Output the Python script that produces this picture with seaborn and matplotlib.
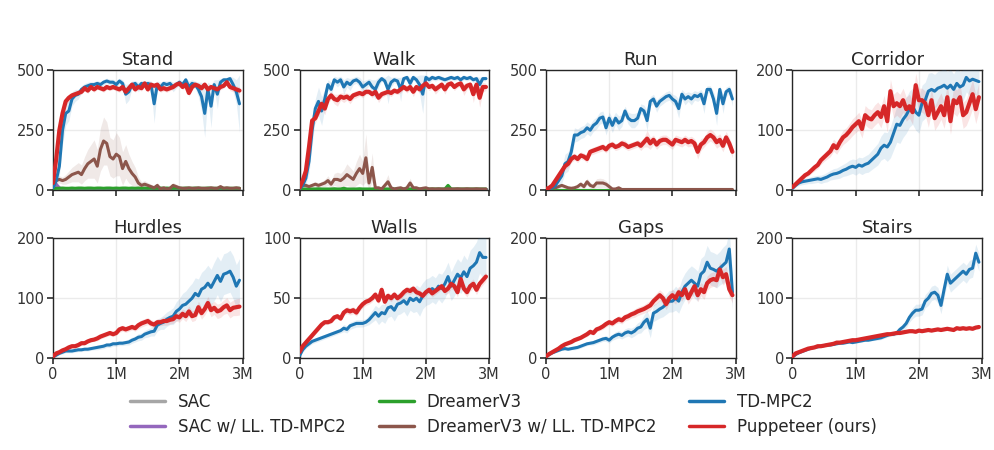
import numpy as np
import matplotlib
matplotlib.use("Agg")
import matplotlib.pyplot as plt
import seaborn as sns
from matplotlib.lines import Line2D

# ---------------- data (environment steps every 50k, 0 .. 2.95M) ----------------
steps = np.arange(60) * 50_000

titles = ["Stand", "Walk", "Run", "Corridor", "Hurdles", "Walls", "Gaps", "Stairs"]
ymax = [500, 500, 500, 200, 200, 100, 200, 200]
yticks = [[0, 250, 500], [0, 250, 500], [0, 250, 500], [0, 100, 200],
          [0, 100, 200], [0, 50, 100], [0, 100, 200], [0, 100, 200]]
xtick_vals = [0, 1_000_000, 2_000_000, 3_000_000]
xtick_labels = ["0", "1M", "2M", "3M"]

legend_labels = ["SAC", "SAC w/ LL. TD-MPC2", "DreamerV3",
                 "DreamerV3 w/ LL. TD-MPC2", "TD-MPC2", "Puppeteer (ours)"]

# ---- Stand ----
stand_tdmpc2 = [10, 40, 100, 250, 320, 330, 380, 395, 400, 420,
                430, 435, 440, 440, 445, 440, 450, 455, 450, 450,
                440, 455, 445, 400, 410, 440, 445, 430, 445, 440,
                445, 440, 360, 440, 430, 445, 440, 445, 430, 440,
                450, 440, 460, 430, 445, 440, 420, 390, 320, 420,
                350, 440, 400, 450, 460, 460, 465, 440, 410, 360]
stand_tdmpc2_sd = [5, 20, 40, 60, 50, 40, 30, 25, 20, 15,
                   15, 15, 12, 12, 12, 12, 12, 12, 12, 12,
                   15, 12, 15, 40, 35, 15, 12, 20, 12, 15,
                   12, 15, 80, 15, 20, 12, 15, 12, 20, 15,
                   12, 15, 10, 25, 15, 15, 30, 60, 100, 30,
                   90, 20, 60, 15, 10, 10, 10, 30, 50, 120]
stand_pup = [30, 130, 250, 320, 370, 385, 395, 400, 405, 410,
             425, 415, 430, 420, 430, 425, 420, 430, 425, 430,
             425, 420, 430, 410, 425, 440, 420, 430, 425, 445,
             420, 440, 435, 440, 420, 425, 420, 425, 430, 440,
             445, 430, 440, 405, 430, 440, 435, 425, 440, 420,
             430, 425, 420, 430, 435, 450, 430, 425, 420, 415]
stand_pup_sd = [10, 30, 40, 30, 20, 15, 12, 10, 10, 10,
                10, 12, 10, 12, 10, 10, 12, 10, 10, 10,
                12, 12, 10, 15, 12, 10, 12, 10, 12, 10,
                12, 10, 10, 10, 12, 12, 12, 10, 10, 10,
                10, 12, 10, 15, 12, 10, 10, 12, 10, 12,
                10, 12, 12, 12, 10, 10, 15, 15, 15, 15]
stand_dreamer_ll = [20, 40, 45, 40, 45, 55, 65, 70, 75, 65,
                    90, 110, 120, 130, 100, 170, 205, 195, 140, 130,
                    150, 140, 90, 120, 90, 70, 55, 30, 20, 25,
                    20, 15, 10, 20, 5, 10, 5, 8, 20, 15,
                    10, 8, 8, 10, 8, 8, 10, 8, 8, 8,
                    10, 8, 8, 15, 8, 10, 8, 8, 10, 8]
stand_dreamer_ll_sd = [5, 10, 15, 15, 20, 25, 30, 35, 40, 40,
                       50, 60, 70, 80, 70, 90, 100, 90, 80, 80,
                       90, 80, 70, 70, 60, 50, 40, 25, 15, 15,
                       12, 10, 8, 12, 4, 6, 4, 5, 12, 10,
                       6, 5, 5, 6, 5, 5, 6, 5, 5, 5,
                       6, 5, 5, 8, 5, 6, 5, 5, 6, 5]
stand_dreamer = [5, 8, 8, 9, 8, 8, 9, 8, 9, 9,
                 8, 9, 9, 8, 9, 9, 8, 9, 9, 8,
                 9, 8, 9, 9, 8, 9, 8, 9, 8, 9,
                 8, 9, 8, 8, 9, 8, 9, 8, 8, 9,
                 8, 8, 9, 8, 8, 9, 8, 8, 8, 9,
                 8, 8, 8, 9, 8, 8, 8, 8, 8, 8]
stand_sac = [3, 4, 4, 4, 4, 4, 4, 4, 4, 4,
             4, 4, 4, 4, 4, 4, 4, 4, 4, 4,
             4, 4, 4, 4, 4, 4, 4, 4, 4, 4,
             4, 4, 4, 4, 4, 4, 4, 4, 4, 4,
             4, 4, 4, 4, 4, 4, 4, 4, 4, 4,
             4, 4, 4, 4, 4, 4, 4, 4, 4, 4]
stand_sac_ll = [5, 25, 10, 5, 5, 5, 5, 5, 5, 5,
                5, 5, 5, 5, 5, 5, 5, 5, 5, 5,
                5, 5, 5, 5, 5, 5, 5, 5, 5, 5,
                5, 5, 5, 5, 5, 5, 5, 5, 5, 5,
                5, 5, 5, 5, 5, 5, 5, 5, 5, 5,
                5, 5, 5, 5, 5, 5, 5, 5, 5, 5]

# ---- Walk ----
walk_tdmpc2 = [5, 20, 50, 120, 250, 340, 370, 330, 380, 440,
               420, 460, 450, 460, 430, 450, 440, 455, 460, 450,
               430, 440, 450, 430, 420, 450, 465, 455, 420, 450,
               460, 455, 420, 465, 470, 445, 470, 460, 440, 400,
               470, 460, 470, 465, 470, 465, 460, 465, 470, 465,
               470, 460, 470, 465, 470, 460, 465, 440, 465, 465]
walk_tdmpc2_sd = [3, 10, 25, 50, 60, 40, 60, 60, 40, 20,
                  30, 15, 20, 15, 30, 20, 25, 15, 15, 20,
                  25, 20, 15, 30, 40, 20, 10, 15, 60, 20,
                  12, 15, 50, 10, 10, 25, 10, 15, 40, 80,
                  10, 15, 10, 10, 10, 10, 12, 10, 10, 10,
                  10, 12, 10, 10, 10, 12, 10, 30, 10, 10]
walk_pup = [10, 40, 80, 180, 290, 300, 330, 360, 340, 380,
            395, 380, 375, 390, 385, 390, 380, 395, 400, 405,
            400, 410, 410, 400, 410, 385, 400, 405, 410, 405,
            415, 410, 420, 430, 420, 430, 410, 430, 420, 435,
            445, 430, 435, 420, 430, 440, 420, 440, 445, 430,
            440, 445, 420, 435, 440, 400, 440, 385, 430, 430]
walk_pup_sd = [5, 15, 25, 30, 25, 20, 20, 20, 25, 20,
               15, 20, 25, 15, 20, 15, 20, 15, 15, 12,
               15, 12, 12, 15, 12, 20, 15, 12, 12, 15,
               12, 12, 15, 12, 15, 12, 20, 12, 15, 12,
               12, 15, 12, 20, 15, 12, 20, 12, 12, 15,
               12, 12, 25, 15, 12, 35, 15, 40, 20, 15]
walk_dreamer_ll = [10, 20, 20, 15, 20, 25, 20, 25, 30, 40,
                   25, 45, 45, 40, 50, 65, 55, 45, 70, 90,
                   70, 135, 30, 95, 10, 10, 5, 20, 35, 10,
                   5, 8, 10, 5, 10, 30, 10, 10, 5, 8,
                   10, 5, 6, 5, 6, 5, 5, 6, 5, 5,
                   6, 5, 5, 6, 5, 5, 6, 5, 5, 5]
walk_dreamer_ll_sd = [5, 10, 10, 8, 10, 12, 10, 12, 15, 20,
                      15, 25, 30, 30, 35, 45, 40, 35, 50, 60,
                      50, 100, 25, 60, 8, 8, 4, 15, 30, 8,
                      4, 5, 8, 4, 8, 20, 8, 6, 4, 5,
                      6, 4, 4, 4, 4, 4, 4, 4, 4, 4,
                      4, 4, 4, 4, 4, 4, 4, 4, 4, 4]
walk_dreamer = [4, 5, 5, 5, 5, 5, 6, 5, 5, 5,
                5, 6, 5, 5, 8, 5, 5, 5, 5, 6,
                5, 5, 5, 5, 6, 5, 5, 5, 5, 5,
                5, 5, 5, 5, 5, 5, 5, 5, 5, 5,
                5, 5, 5, 5, 5, 5, 5, 20, 5, 5,
                5, 5, 5, 5, 5, 5, 5, 5, 5, 5]
walk_sac = [3] * 60
walk_sac_ll = [4] * 60

# ---- Run ----
run_tdmpc2 = [5, 5, 10, 20, 40, 60, 110, 120, 160, 230,
              230, 240, 245, 260, 250, 270, 280, 300, 305, 260,
              300, 270, 300, 280, 290, 330, 300, 290, 290, 300,
              340, 330, 290, 370, 380, 350, 370, 380, 390, 395,
              380, 370, 340, 400, 380, 390, 380, 395, 390, 400,
              360, 420, 420, 380, 320, 420, 360, 410, 420, 380]
run_tdmpc2_sd = [3, 3, 5, 10, 20, 30, 40, 40, 40, 30,
                 25, 25, 25, 25, 25, 25, 25, 25, 25, 30,
                 25, 30, 25, 30, 25, 20, 25, 30, 30, 25,
                 20, 25, 40, 20, 20, 25, 20, 20, 20, 20,
                 20, 25, 40, 20, 25, 20, 25, 20, 20, 20,
                 40, 15, 15, 30, 50, 15, 40, 20, 15, 30]
run_pup = [5, 10, 20, 40, 60, 80, 100, 110, 130, 140,
           130, 145, 140, 130, 160, 165, 170, 175, 180, 170,
           185, 190, 180, 185, 195, 190, 180, 185, 190, 195,
           185, 200, 215, 195, 210, 190, 205, 210, 210, 200,
           190, 210, 205, 200, 210, 200, 205, 195, 160, 190,
           200, 220, 230, 220, 200, 210, 185, 220, 195, 160]
run_pup_sd = [3, 5, 8, 10, 12, 12, 15, 15, 15, 15,
              15, 15, 15, 15, 15, 15, 15, 15, 15, 15,
              15, 15, 15, 15, 15, 18, 15, 15, 15, 15,
              20, 20, 35, 25, 20, 20, 20, 20, 20, 20,
              20, 20, 20, 20, 20, 20, 20, 20, 30, 25,
              20, 25, 25, 25, 25, 25, 25, 25, 25, 25]
run_dreamer_ll = [5, 8, 10, 10, 15, 20, 15, 10, 8, 10,
                  15, 25, 15, 35, 20, 15, 30, 30, 30, 25,
                  15, 5, 5, 10, 3, 3, 3, 3, 3, 3,
                  3, 3, 3, 3, 3, 3, 3, 3, 3, 3,
                  3, 3, 3, 3, 3, 3, 3, 3, 3, 3,
                  3, 3, 3, 3, 3, 3, 3, 3, 3, 3]
run_dreamer_ll_sd = [3, 4, 5, 5, 8, 10, 8, 6, 5, 6,
                     8, 12, 10, 15, 12, 10, 18, 20, 18, 15,
                     10, 4, 4, 6, 2, 2, 2, 2, 2, 2,
                     2, 2, 2, 2, 2, 2, 2, 2, 2, 2,
                     2, 2, 2, 2, 2, 2, 2, 2, 2, 2,
                     2, 2, 2, 2, 2, 2, 2, 2, 2, 2]
run_dreamer = [2] * 60
run_sac = [1] * 60
run_sac_ll = [2] * 60

# ---- Corridor ----
corridor_tdmpc2 = [3, 8, 12, 14, 15, 16, 17, 18, 19, 18,
                   20, 22, 25, 27, 28, 30, 33, 35, 38, 40,
                   38, 42, 40, 43, 45, 50, 55, 60, 70, 75,
                   72, 80, 95, 110, 108, 118, 125, 135, 140, 130,
                   125, 145, 150, 165, 168, 165, 170, 172, 175, 170,
                   175, 168, 178, 172, 175, 188, 182, 185, 183, 181]
corridor_tdmpc2_sd = [2, 3, 4, 5, 5, 5, 6, 6, 6, 7,
                      7, 8, 8, 9, 9, 10, 10, 11, 12, 12,
                      13, 13, 14, 14, 15, 16, 17, 18, 20, 22,
                      24, 26, 28, 30, 30, 30, 30, 30, 30, 30,
                      30, 30, 30, 30, 28, 28, 28, 28, 28, 28,
                      26, 26, 26, 26, 26, 24, 24, 24, 24, 24]
corridor_pup = [5, 10, 15, 20, 25, 28, 33, 38, 42, 50,
                55, 60, 65, 75, 70, 80, 88, 92, 98, 105,
                110, 115, 102, 125, 120, 118, 125, 130, 122, 140,
                115, 165, 140, 145, 140, 150, 135, 140, 130, 175,
                150, 150, 145, 125, 150, 120, 130, 140, 125, 155,
                115, 150, 145, 155, 125, 130, 145, 160, 135, 155]
corridor_pup_sd = [2, 3, 3, 4, 4, 5, 5, 6, 6, 7,
                   7, 8, 9, 10, 10, 11, 12, 12, 13, 14,
                   14, 15, 15, 16, 16, 16, 17, 17, 18, 18,
                   18, 20, 20, 20, 20, 20, 20, 20, 20, 20,
                   20, 20, 20, 20, 20, 20, 22, 22, 22, 22,
                   22, 22, 22, 22, 22, 22, 24, 24, 24, 24]

# ---- Hurdles ----
hurdles_tdmpc2 = [2, 5, 8, 10, 12, 12, 12, 13, 14, 14,
                  15, 15, 16, 17, 18, 19, 20, 22, 22, 24,
                  24, 25, 25, 26, 27, 30, 32, 35, 36, 40,
                  42, 44, 45, 55, 58, 60, 65, 68, 70, 78,
                  82, 88, 90, 95, 100, 108, 104, 115, 118, 125,
                  118, 128, 138, 128, 140, 142, 145, 135, 120, 130]
hurdles_tdmpc2_sd = [1, 2, 2, 3, 3, 3, 3, 3, 3, 3,
                     3, 3, 3, 3, 4, 4, 4, 4, 4, 4,
                     4, 4, 4, 4, 5, 5, 5, 6, 6, 6,
                     7, 7, 8, 10, 10, 12, 12, 12, 14, 16,
                     18, 20, 22, 24, 25, 26, 28, 28, 30, 30,
                     30, 32, 32, 34, 34, 34, 35, 36, 36, 36]
hurdles_pup = [3, 8, 10, 13, 15, 18, 20, 20, 22, 25,
               25, 28, 30, 31, 33, 36, 38, 40, 42, 40,
               42, 48, 50, 48, 50, 52, 50, 55, 58, 60,
               62, 58, 56, 60, 60, 62, 62, 64, 65, 70,
               68, 74, 70, 78, 70, 72, 85, 75, 82, 92,
               80, 84, 78, 80, 85, 88, 80, 84, 85, 86]
hurdles_pup_sd = [1, 2, 2, 2, 3, 3, 3, 3, 3, 3,
                  3, 3, 3, 3, 4, 4, 4, 4, 4, 4,
                  4, 5, 5, 5, 5, 5, 5, 6, 6, 6,
                  6, 6, 6, 6, 6, 7, 7, 7, 7, 8,
                  8, 8, 9, 9, 9, 9, 10, 10, 10, 11,
                  11, 11, 12, 12, 12, 13, 13, 13, 14, 14]

# ---- Walls ----
walls_tdmpc2 = [2, 7, 10, 12, 14, 15, 16, 17, 18, 19,
                20, 21, 22, 23, 25, 24, 27, 28, 29, 29,
                29, 30, 32, 35, 38, 35, 38, 37, 42, 43,
                40, 45, 46, 48, 45, 50, 48, 50, 47, 52,
                55, 56, 58, 56, 60, 58, 62, 68, 60, 65,
                70, 67, 72, 68, 75, 77, 80, 88, 84, 84]
walls_tdmpc2_sd = [1, 2, 2, 2, 2, 2, 2, 2, 2, 2,
                   2, 2, 2, 2, 3, 3, 3, 3, 3, 3,
                   3, 3, 4, 5, 6, 7, 7, 8, 8, 8,
                   9, 9, 9, 9, 10, 10, 10, 11, 12, 11,
                   11, 11, 11, 11, 11, 12, 12, 12, 12, 13,
                   13, 13, 14, 14, 15, 16, 17, 17, 17, 17]
walls_pup = [5, 10, 13, 16, 19, 22, 25, 28, 30, 30,
             31, 34, 35, 33, 38, 40, 39, 40, 38, 42,
             45, 47, 48, 50, 53, 48, 57, 47, 52, 50,
             53, 50, 52, 55, 57, 56, 58, 55, 54, 52,
             55, 57, 54, 56, 58, 60, 56, 58, 62, 60,
             55, 66, 58, 55, 60, 62, 57, 62, 65, 68]
walls_pup_sd = [1, 2, 2, 2, 2, 2, 2, 2, 2, 2,
                2, 2, 2, 2, 2, 3, 3, 3, 3, 3,
                3, 3, 3, 3, 3, 3, 4, 3, 3, 3,
                3, 3, 3, 3, 3, 3, 3, 3, 3, 3,
                3, 3, 3, 3, 3, 3, 3, 4, 4, 4,
                4, 4, 4, 4, 4, 4, 4, 4, 4, 4]

# ---- Gaps ----
gaps_tdmpc2 = [2, 6, 9, 11, 13, 15, 16, 15, 16, 17,
               18, 20, 22, 24, 25, 26, 28, 30, 32, 33,
               30, 35, 38, 40, 38, 42, 44, 42, 45, 50,
               52, 60, 65, 50, 75, 78, 82, 85, 90, 95,
               95, 100, 95, 110, 120, 125, 130, 125, 120, 140,
               145, 160, 150, 148, 145, 150, 155, 160, 182, 110]
gaps_tdmpc2_sd = [1, 2, 2, 2, 2, 2, 2, 2, 2, 3,
                  3, 3, 3, 3, 3, 4, 4, 4, 4, 5,
                  5, 5, 6, 6, 6, 7, 7, 8, 8, 9,
                  10, 12, 14, 16, 14, 14, 15, 16, 17, 18,
                  18, 20, 20, 22, 22, 24, 24, 25, 25, 26,
                  26, 28, 28, 28, 28, 28, 30, 30, 30, 30]
gaps_pup = [3, 7, 10, 13, 16, 20, 23, 25, 27, 30,
            32, 34, 37, 40, 44, 42, 48, 50, 53, 57,
            60, 58, 62, 65, 63, 68, 70, 73, 75, 78,
            80, 82, 85, 88, 95, 100, 105, 100, 90, 100,
            105, 100, 110, 105, 115, 100, 110, 120, 105, 115,
            110, 125, 130, 132, 130, 148, 135, 140, 115, 105]
gaps_pup_sd = [1, 2, 2, 2, 2, 2, 2, 3, 3, 3,
               3, 3, 3, 4, 4, 4, 4, 4, 5, 5,
               5, 5, 5, 6, 6, 6, 6, 6, 7, 7,
               7, 7, 8, 8, 8, 9, 9, 9, 9, 9,
               10, 10, 10, 10, 10, 10, 11, 11, 11, 11,
               12, 12, 12, 12, 12, 13, 13, 13, 13, 13]

# ---- Stairs ----
stairs_tdmpc2 = [2, 6, 9, 11, 13, 15, 17, 18, 19, 20,
                 21, 22, 22, 23, 24, 25, 25, 26, 27, 26,
                 27, 28, 29, 30, 30, 31, 32, 33, 34, 36,
                 38, 40, 40, 42, 48, 52, 58, 68, 75, 80,
                 80, 82, 95, 100, 108, 110, 105, 88, 115, 140,
                 125, 130, 135, 140, 145, 140, 148, 150, 175, 160]
stairs_tdmpc2_sd = [1, 1, 1, 1, 1, 2, 2, 2, 2, 2,
                    2, 2, 2, 2, 2, 2, 2, 2, 2, 2,
                    2, 2, 2, 2, 2, 2, 2, 3, 3, 3,
                    3, 3, 3, 4, 5, 6, 7, 8, 9, 10,
                    10, 10, 11, 12, 12, 12, 13, 14, 14, 15,
                    15, 15, 15, 15, 15, 15, 15, 15, 15, 15]
stairs_pup = [3, 8, 10, 12, 14, 16, 17, 18, 20, 20,
              21, 22, 23, 24, 26, 26, 27, 28, 29, 30,
              30, 31, 32, 33, 34, 35, 36, 37, 38, 39,
              40, 40, 41, 42, 42, 43, 44, 45, 45, 44,
              46, 45, 46, 47, 46, 47, 48, 47, 48, 49,
              48, 47, 50, 49, 50, 49, 50, 49, 51, 52]
stairs_pup_sd = [1, 1, 1, 1, 1, 1, 1, 1, 1, 1,
                 1, 1, 1, 1, 2, 2, 2, 2, 2, 2,
                 2, 2, 2, 2, 2, 2, 2, 2, 2, 2,
                 2, 2, 2, 2, 2, 2, 2, 2, 2, 2,
                 2, 2, 2, 2, 2, 2, 2, 2, 2, 2,
                 2, 2, 2, 2, 2, 2, 2, 2, 2, 3]

# ---------------- style ----------------
C_SAC = "#a6a6a6"
C_SACLL = "#9467bd"
C_DRM = "#2ca02c"
C_DRMLL = "#8c564b"
C_TD = "#1f77b4"
C_PUP = "#d62728"

sns.set_theme(style="whitegrid", rc={
    "axes.edgecolor": "#262626",
    "axes.linewidth": 1.0,
    "grid.color": "#ebebeb",
    "grid.linewidth": 1.0,
    "xtick.bottom": True,
    "ytick.left": True,
    "xtick.major.size": 4,
    "ytick.major.size": 4,
    "xtick.color": "#333333",
    "ytick.color": "#333333",
    "xtick.labelsize": 10.5,
    "ytick.labelsize": 10.5,
    "axes.titlesize": 13,
})
plt.rcParams["font.family"] = ["DejaVu Sans"]

fig, axes = plt.subplots(2, 4, figsize=(9.95, 4.5), dpi=100)
fig.subplots_adjust(left=0.0533, right=0.987, top=0.844, bottom=0.204,
                    wspace=0.30, hspace=0.40)

task_main = [
    (stand_tdmpc2, stand_tdmpc2_sd, stand_pup, stand_pup_sd),
    (walk_tdmpc2, walk_tdmpc2_sd, walk_pup, walk_pup_sd),
    (run_tdmpc2, run_tdmpc2_sd, run_pup, run_pup_sd),
    (corridor_tdmpc2, corridor_tdmpc2_sd, corridor_pup, corridor_pup_sd),
    (hurdles_tdmpc2, hurdles_tdmpc2_sd, hurdles_pup, hurdles_pup_sd),
    (walls_tdmpc2, walls_tdmpc2_sd, walls_pup, walls_pup_sd),
    (gaps_tdmpc2, gaps_tdmpc2_sd, gaps_pup, gaps_pup_sd),
    (stairs_tdmpc2, stairs_tdmpc2_sd, stairs_pup, stairs_pup_sd),
]
task_extra = {
    0: (stand_sac, stand_sac_ll, stand_dreamer, stand_dreamer_ll, stand_dreamer_ll_sd),
    1: (walk_sac, walk_sac_ll, walk_dreamer, walk_dreamer_ll, walk_dreamer_ll_sd),
    2: (run_sac, run_sac_ll, run_dreamer, run_dreamer_ll, run_dreamer_ll_sd),
}


def band(ax, y, sd, color, alpha, z):
    y = np.asarray(y, float)
    sd = np.asarray(sd, float)
    ax.fill_between(steps, np.clip(y - sd, 0, None), y + sd, color=color,
                    alpha=alpha, lw=0, zorder=z)


for i, ax in enumerate(axes.flat):
    td, td_sd, pup, pup_sd = task_main[i]
    if i in task_extra:
        sac, sac_ll, drm, drm_ll, drm_ll_sd = task_extra[i]
        band(ax, drm_ll, drm_ll_sd, C_DRMLL, 0.13, 1)
        sns.lineplot(x=steps, y=sac, ax=ax, color=C_SAC, lw=2.2, zorder=2)
        sns.lineplot(x=steps, y=sac_ll, ax=ax, color=C_SACLL, lw=2.2, zorder=2)
        sns.lineplot(x=steps, y=drm, ax=ax, color=C_DRM, lw=2.2, zorder=3)
        sns.lineplot(x=steps, y=drm_ll, ax=ax, color=C_DRMLL, lw=2.2, zorder=3)
    band(ax, td, td_sd, C_TD, 0.12, 4)
    band(ax, pup, pup_sd, C_PUP, 0.12, 5)
    sns.lineplot(x=steps, y=td, ax=ax, color=C_TD, lw=2.2, zorder=6)
    sns.lineplot(x=steps, y=pup, ax=ax, color=C_PUP, lw=3.0, zorder=7)

    ax.set_xlim(0, 3_000_000)
    ax.set_ylim(0, ymax[i])
    ax.set_yticks(yticks[i])
    ax.set_xticks(xtick_vals)
    if i >= 4:
        ax.set_xticklabels(xtick_labels)
    else:
        ax.set_xticklabels([])
    ax.set_title(titles[i], pad=4)
    ax.set_xlabel("")
    ax.set_ylabel("")
    for s in ax.spines.values():
        s.set_visible(True)
        s.set_color("#262626")
    ax.tick_params(axis="both", pad=2)

handles = [
    Line2D([], [], color=C_SAC, lw=2.5),
    Line2D([], [], color=C_SACLL, lw=2.5),
    Line2D([], [], color=C_DRM, lw=2.5),
    Line2D([], [], color=C_DRMLL, lw=2.5),
    Line2D([], [], color=C_TD, lw=2.5),
    Line2D([], [], color=C_PUP, lw=2.5),
]
fig.legend(handles, legend_labels, loc="upper center", ncol=3, frameon=False,
           bbox_to_anchor=(0.506, 0.161), fontsize=12, columnspacing=2.0,
           handlelength=2.1, handletextpad=0.78, labelspacing=0.42)

fig.savefig("out.png", dpi=100)
